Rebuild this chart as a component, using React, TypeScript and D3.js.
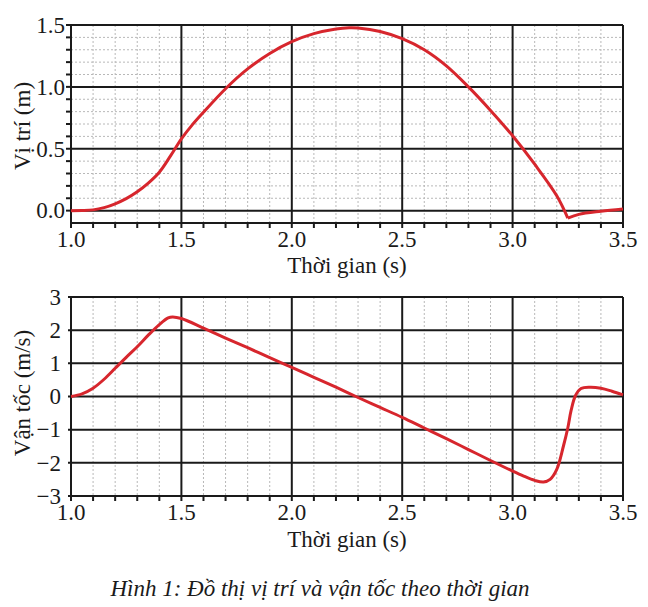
import * as d3 from "d3";
import { useEffect, useRef } from "react";

// thời gian (s) và vị trí (m)
const posT = [1.0, 1.05, 1.1, 1.15, 1.2, 1.25, 1.3, 1.35, 1.4, 1.45, 1.5, 1.55, 1.6, 1.7, 1.8, 1.9, 2.0, 2.1, 2.2, 2.26, 2.3, 2.4, 2.5, 2.6, 2.7, 2.8, 2.9, 3.0, 3.1, 3.2, 3.25, 3.3, 3.4, 3.5];
const posX = [0, 0.001, 0.006, 0.024, 0.055, 0.097, 0.152, 0.222, 0.31, 0.44, 0.58, 0.695, 0.795, 0.985, 1.145, 1.27, 1.365, 1.43, 1.468, 1.478, 1.476, 1.448, 1.39, 1.3, 1.17, 1.0, 0.81, 0.605, 0.375, 0.12, -0.06, -0.03, -0.005, 0.013];

// thời gian (s) và vận tốc (m/s)
const velT = [1.0, 1.05, 1.1, 1.15, 1.2, 1.25, 1.3, 1.35, 1.4, 1.44, 1.46, 1.5, 1.6, 1.7, 1.8, 1.9, 2.0, 2.1, 2.2, 2.3, 2.4, 2.5, 2.6, 2.7, 2.8, 2.9, 3.0, 3.05, 3.1, 3.14, 3.17, 3.2, 3.23, 3.25, 3.265, 3.285, 3.31, 3.35, 3.4, 3.45, 3.5];
const velV = [0, 0.08, 0.25, 0.52, 0.85, 1.18, 1.5, 1.85, 2.17, 2.37, 2.4, 2.35, 2.06, 1.76, 1.47, 1.17, 0.88, 0.58, 0.28, -0.03, -0.33, -0.63, -0.95, -1.27, -1.6, -1.93, -2.25, -2.4, -2.53, -2.58, -2.5, -2.2, -1.5, -0.95, -0.42, 0.03, 0.24, 0.28, 0.25, 0.16, 0.05];

const xTicks = [1.0, 1.5, 2.0, 2.5, 3.0, 3.5];
const posTicks = [0.0, 0.5, 1.0, 1.5];
const velTicks = [-3, -2, -1, 0, 1, 2, 3];

const W = 648;
const H = 607;
const RED = "#d7262d";
const INK = "#1a1a1a";
const FONT = "Liberation Serif, DejaVu Serif, serif";

export default function App() {
    const svgRef = useRef<SVGSVGElement | null>(null);

    useEffect(() => {
        if (!svgRef.current) return;
        const svg = d3.select(svgRef.current);
        svg.selectAll("*").remove();
        svg.attr("font-family", FONT).attr("font-size", 23).attr("fill", INK);

        const x = d3.scaleLinear().domain([1.0, 3.5]).range([71, 623]);
        const minorX = d3.range(10, 36).map((d) => d / 10);

        // ---------- top panel: vị trí ----------
        const yP = d3.scaleLinear().domain([-0.1, 1.5]).range([223, 25]);
        const top = svg.append("g");
        const minorP = d3.range(-1, 16).map((d) => d / 10);

        top.selectAll("line.vminor")
            .data(minorX.filter((d) => Math.round(d * 10) % 5 !== 0))
            .enter().append("line")
            .attr("x1", (d) => x(d)).attr("x2", (d) => x(d))
            .attr("y1", yP(1.5)).attr("y2", yP(-0.1))
            .attr("stroke", "#b8b8b8").attr("stroke-width", 1).attr("stroke-dasharray", "2,2");
        top.selectAll("line.hminor")
            .data(minorP.filter((d) => Math.round(d * 10) % 5 !== 0 && d > -0.1))
            .enter().append("line")
            .attr("x1", x(1.0)).attr("x2", x(3.5))
            .attr("y1", (d) => yP(d)).attr("y2", (d) => yP(d))
            .attr("stroke", "#b8b8b8").attr("stroke-width", 1).attr("stroke-dasharray", "2,2");
        top.selectAll("line.vmajor")
            .data(xTicks)
            .enter().append("line")
            .attr("x1", (d) => x(d)).attr("x2", (d) => x(d))
            .attr("y1", yP(1.5)).attr("y2", yP(-0.1))
            .attr("stroke", INK).attr("stroke-width", 2);
        top.selectAll("line.hmajor")
            .data([-0.1, ...posTicks])
            .enter().append("line")
            .attr("x1", x(1.0)).attr("x2", x(3.5))
            .attr("y1", (d) => yP(d)).attr("y2", (d) => yP(d))
            .attr("stroke", INK).attr("stroke-width", 2);

        // ticks
        top.selectAll("line.xt")
            .data(minorX)
            .enter().append("line")
            .attr("x1", (d) => x(d)).attr("x2", (d) => x(d))
            .attr("y1", yP(-0.1)).attr("y2", yP(-0.1) + 5)
            .attr("stroke", INK).attr("stroke-width", 2);
        top.selectAll("line.yt")
            .data(minorP.filter((d) => d > -0.1))
            .enter().append("line")
            .attr("x1", x(1.0) - 5).attr("x2", x(1.0))
            .attr("y1", (d) => yP(d)).attr("y2", (d) => yP(d))
            .attr("stroke", INK).attr("stroke-width", 2);

        top.selectAll("text.yl")
            .data(posTicks)
            .enter().append("text")
            .attr("x", 65).attr("y", (d) => yP(d)).attr("dy", "0.34em")
            .attr("text-anchor", "end")
            .text((d) => d3.format(".1f")(d));
        top.selectAll("text.xl")
            .data(xTicks)
            .enter().append("text")
            .attr("x", (d) => x(d)).attr("y", 247)
            .attr("text-anchor", "middle")
            .text((d) => d3.format(".1f")(d));
        top.append("text")
            .attr("x", 347).attr("y", 273).attr("text-anchor", "middle")
            .text("Thời gian (s)");
        top.append("text")
            .attr("transform", "translate(30,126) rotate(-90)")
            .attr("text-anchor", "middle")
            .text("Vị trí (m)");

        const pos = posT.map((t, i) => ({ t, v: posX[i] }));
        const lineP = d3.line<{ t: number; v: number }>()
            .x((d) => x(d.t)).y((d) => yP(d.v))
            .curve(d3.curveCatmullRom.alpha(0.5));
        // the bounce at 3.25 s is a sharp corner, so draw two pieces
        [pos.filter((d) => d.t <= 3.25), pos.filter((d) => d.t >= 3.25)].forEach((seg) => {
            top.append("path")
                .datum(seg)
                .attr("fill", "none")
                .attr("stroke", RED)
                .attr("stroke-width", 3)
                .attr("stroke-linejoin", "round")
                .attr("d", lineP);
        });

        // ---------- bottom panel: vận tốc ----------
        const yV = d3.scaleLinear().domain([-3, 3]).range([496, 297]);
        const bot = svg.append("g");

        bot.selectAll("line.vminor")
            .data(minorX.filter((d) => Math.round(d * 10) % 5 !== 0))
            .enter().append("line")
            .attr("x1", (d) => x(d)).attr("x2", (d) => x(d))
            .attr("y1", yV(3)).attr("y2", yV(-3))
            .attr("stroke", "#b8b8b8").attr("stroke-width", 1).attr("stroke-dasharray", "2,2");
        bot.selectAll("line.vmajor")
            .data(xTicks)
            .enter().append("line")
            .attr("x1", (d) => x(d)).attr("x2", (d) => x(d))
            .attr("y1", yV(3)).attr("y2", yV(-3))
            .attr("stroke", INK).attr("stroke-width", 2);
        bot.selectAll("line.hmajor")
            .data(velTicks)
            .enter().append("line")
            .attr("x1", x(1.0) - 3).attr("x2", x(3.5))
            .attr("y1", (d) => yV(d)).attr("y2", (d) => yV(d))
            .attr("stroke", INK).attr("stroke-width", 2);
        bot.selectAll("line.xt")
            .data(minorX)
            .enter().append("line")
            .attr("x1", (d) => x(d)).attr("x2", (d) => x(d))
            .attr("y1", yV(-3)).attr("y2", yV(-3) + 5)
            .attr("stroke", INK).attr("stroke-width", 2);

        bot.selectAll("text.yl")
            .data(velTicks)
            .enter().append("text")
            .attr("x", 61).attr("y", (d) => yV(d)).attr("dy", "0.34em")
            .attr("text-anchor", "end")
            .text((d) => (d < 0 ? "\u2212" + Math.abs(d) : String(d)));
        bot.selectAll("text.xl")
            .data(xTicks)
            .enter().append("text")
            .attr("x", (d) => x(d)).attr("y", 520)
            .attr("text-anchor", "middle")
            .text((d) => d3.format(".1f")(d));
        bot.append("text")
            .attr("x", 347).attr("y", 547).attr("text-anchor", "middle")
            .text("Thời gian (s)");
        bot.append("text")
            .attr("transform", "translate(30,393) rotate(-90)")
            .attr("text-anchor", "middle")
            .text("Vận tốc (m/s)");

        const vel = velT.map((t, i) => ({ t, v: velV[i] }));
        const lineV = d3.line<{ t: number; v: number }>()
            .x((d) => x(d.t)).y((d) => yV(d.v))
            .curve(d3.curveCatmullRom.alpha(0.5));
        bot.append("path")
            .datum(vel)
            .attr("fill", "none")
            .attr("stroke", RED)
            .attr("stroke-width", 3)
            .attr("stroke-linejoin", "round")
            .attr("d", lineV);

        // caption
        svg.append("text")
            .attr("x", 320).attr("y", 596)
            .attr("text-anchor", "middle")
            .attr("font-style", "italic")
            .attr("font-size", 23)
            .text("Hình 1: Đồ thị vị trí và vận tốc theo thời gian");
    }, []);

    return (
        <svg
            ref={svgRef}
            width={W}
            height={H}
            style={{ position: "absolute", left: 0, top: 0, background: "#fff" }}
        />
    );
}
